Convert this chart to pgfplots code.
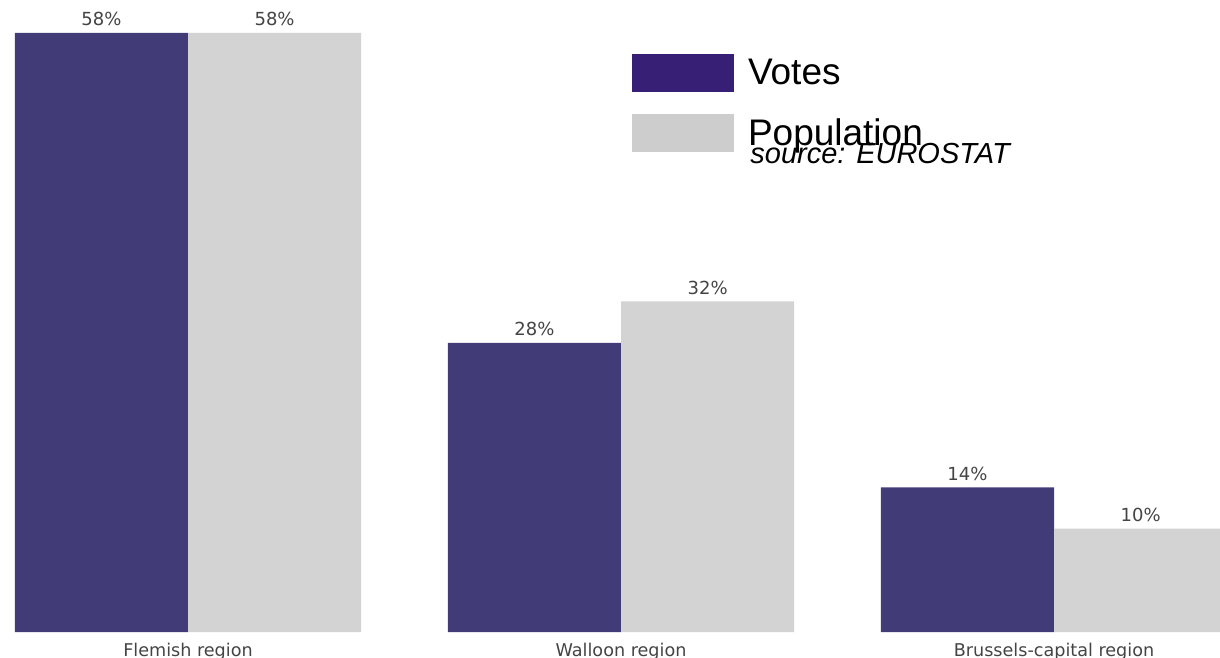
\documentclass[border=0pt]{standalone}
\usepackage{pgfplots}
\pgfplotsset{compat=1.18}
\usepackage{fontspec}
\setmainfont{DejaVu Sans}
\newfontfamily\legfont{Liberation Sans}
\definecolor{votes}{HTML}{413B78}
\definecolor{pop}{HTML}{D3D3D3}
\definecolor{votesleg}{HTML}{371F76}
\definecolor{popleg}{HTML}{CDCDCD}
\definecolor{lbl}{HTML}{444444}
\begin{document}
\begin{tikzpicture}
\path[use as bounding box] (0,0) rectangle (610pt,329pt);
\begin{axis}[
  at={(0pt,13pt)}, anchor=south west,
  scale only axis, width=610pt, height=316pt,
  xmin=-0.43418, xmax=2.38337, ymin=0, ymax=61.18,
  axis line style={draw=none}, tick style={draw=none},
  ytick=\empty, xtick={0,1,2},
  xticklabels={Flemish region, Walloon region, Brussels-capital region},
  xticklabel style={font=\fontsize{8.8}{10}\selectfont, text=lbl, inner sep=0pt, yshift=-1pt},
  /pgf/number format/assume math mode=true,
  ybar, bar width=0.4,
  nodes near coords={\pgfmathprintnumber{\pgfplotspointmeta}\%},
  nodes near coords style={font=\fontsize{9}{10}\selectfont, text=lbl, inner sep=0pt, anchor=base, yshift=3.5pt},
  legend image code/.code={\fill[#1] (0pt,-9pt) rectangle (51pt,10pt);},
  legend style={at={(axis cs:1.0254,55.99)}, anchor=north west, draw=none, fill=none,
    inner sep=0pt, outer sep=0pt, font=\legfont\fontsize{18.5}{20}\selectfont,
    row sep=11pt, /tikz/every odd column/.append style={column sep=5pt}},
  legend cell align=left,
]
\addplot[fill=votes, draw=none, bar shift=-0.2, forget plot] coordinates {(0,58) (1,28) (2,14)};
\addplot[fill=pop, draw=none, bar shift=0.2, forget plot] coordinates {(0,58) (1,32) (2,10)};
\addlegendimage{fill=votesleg, draw=none}
\addlegendentry{Votes}
\addlegendimage{fill=popleg, draw=none}
\addlegendentry{Population}
\node[anchor=base west, inner sep=0pt, font=\legfont\itshape\fontsize{14.5}{16}\selectfont] at (axis cs:1.298,45.4) {source: EUROSTAT};
\end{axis}
\end{tikzpicture}
\end{document}
